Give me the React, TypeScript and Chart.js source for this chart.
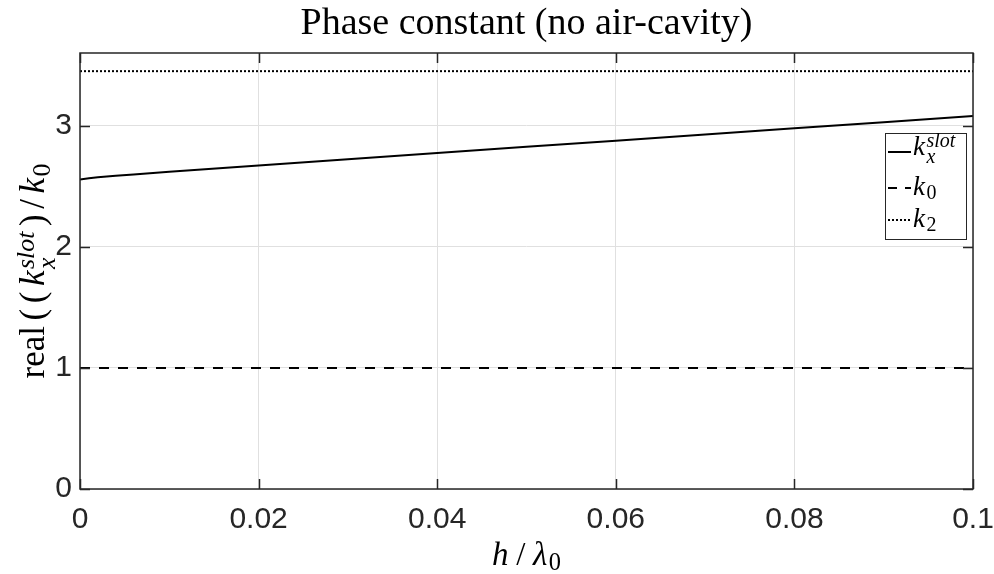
import React, { useEffect, useRef } from 'react';
import { Chart, registerables } from 'chart.js';

Chart.register(...registerables);

// ---- data ----
const hLambda = [0, 0.001, 0.002, 0.004, 0.006, 0.01, 0.02, 0.03, 0.04, 0.05, 0.06, 0.07, 0.08, 0.09, 0.1];
const kSlot = [2.555, 2.566, 2.574, 2.586, 2.597, 2.62, 2.672, 2.723, 2.774, 2.825, 2.876, 2.927, 2.978, 3.029, 3.08];
const k0X = [0, 0.1];
const k0Values = [1, 1];
const k2X = [0, 0.1];
const k2Values = [3.45, 3.45];
const xTicks = [0, 0.02, 0.04, 0.06, 0.08, 0.1];
const xTickLabels = ['0', '0.02', '0.04', '0.06', '0.08', '0.1'];
const yTicks = [0, 1, 2, 3];
const yTickLabels = ['0', '1', '2', '3'];
const xMin = 0;
const xMax = 0.1;
const yMin = 0;
const yMax = 3.6;
const titleText = 'Phase constant (no air-cavity)';

const SERIF = '"Liberation Serif", "Times New Roman", serif';
const SANS = '"Liberation Sans", Arial, sans-serif';
const AXIS = '#262626';
const SCRIPT = 0.74;

type Seg = { t: string; it?: boolean; sup?: string; sub?: string; subIt?: boolean };

function segWidth(ctx: CanvasRenderingContext2D, s: Seg, size: number) {
  ctx.font = `${s.it ? 'italic ' : ''}${size}px ${SERIF}`;
  const w = ctx.measureText(s.t).width;
  let extra = 0;
  const ss = size * SCRIPT;
  if (s.sup) {
    ctx.font = `italic ${ss}px ${SERIF}`;
    extra = Math.max(extra, ctx.measureText(s.sup).width);
  }
  if (s.sub) {
    ctx.font = `${s.subIt ? 'italic ' : ''}${ss}px ${SERIF}`;
    extra = Math.max(extra, ctx.measureText(s.sub).width);
  }
  return w + extra + (extra ? 1.5 : 0);
}

function drawRich(
  ctx: CanvasRenderingContext2D,
  segs: Seg[],
  x: number,
  y: number,
  size: number,
  align: 'left' | 'center',
  target?: number
) {
  const widths = segs.map((s) => segWidth(ctx, s, size));
  const natural = widths.reduce((a, b) => a + b, 0);
  const gap = target && segs.length > 1 && target > natural ? (target - natural) / (segs.length - 1) : 0;
  const total = natural + gap * (segs.length - 1);
  let cx = align === 'center' ? x - total / 2 : x;
  ctx.textAlign = 'left';
  ctx.textBaseline = 'alphabetic';
  ctx.fillStyle = '#000';
  const ss = size * SCRIPT;
  segs.forEach((s, i) => {
    ctx.font = `${s.it ? 'italic ' : ''}${size}px ${SERIF}`;
    ctx.fillText(s.t, cx, y);
    const w = ctx.measureText(s.t).width;
    const both = !!(s.sup && s.sub);
    if (s.sup) {
      ctx.font = `italic ${ss}px ${SERIF}`;
      ctx.fillText(s.sup, cx + w + 1.5, y - size * 0.3);
    }
    if (s.sub) {
      ctx.font = `${s.subIt ? 'italic ' : ''}${ss}px ${SERIF}`;
      ctx.fillText(s.sub, cx + w + 1.5, y + size * (both ? 0.3 : 0.16));
    }
    cx += widths[i] + gap;
  });
}

const decorPlugin = {
  id: 'decor',
  afterDraw(chart: any) {
    const ctx: CanvasRenderingContext2D = chart.ctx;
    const { left, right, top, bottom } = chart.chartArea;
    const xs = chart.scales.x;
    const ys = chart.scales.y;
    ctx.save();
    // box
    ctx.strokeStyle = AXIS;
    ctx.lineWidth = 1.5;
    ctx.setLineDash([]);
    ctx.strokeRect(left, top, right - left, bottom - top);
    // inward ticks
    const tl = 10;
    ctx.beginPath();
    for (const v of xTicks) {
      const px = Math.round(xs.getPixelForValue(v)) + 0.5;
      ctx.moveTo(px, bottom);
      ctx.lineTo(px, bottom - tl);
      ctx.moveTo(px, top);
      ctx.lineTo(px, top + tl);
    }
    for (const v of yTicks) {
      const py = Math.round(ys.getPixelForValue(v)) + 0.5;
      ctx.moveTo(left, py);
      ctx.lineTo(left + tl, py);
      ctx.moveTo(right, py);
      ctx.lineTo(right - tl, py);
    }
    ctx.stroke();

    // title
    ctx.fillStyle = '#000';
    ctx.font = `38px ${SERIF}`;
    ctx.textAlign = 'center';
    ctx.textBaseline = 'alphabetic';
    ctx.fillText(titleText, (left + right) / 2, 34);

    // x label
    drawRich(ctx, [{ t: 'h', it: true }, { t: '/' }, { t: 'λ', it: true, sub: '0' }], (left + right) / 2, 565, 33, 'center', 69);

    // y label
    ctx.save();
    ctx.translate(44, (top + bottom) / 2);
    ctx.rotate(-Math.PI / 2);
    drawRich(
      ctx,
      [
        { t: 'real' },
        { t: '(' },
        { t: '(' },
        { t: 'k', it: true, sup: 'slot', sub: 'x', subIt: true },
        { t: ')' },
        { t: '/' },
        { t: 'k', it: true, sub: '0' },
      ],
      0,
      0,
      35,
      'center',
      215
    );
    ctx.restore();

    // legend
    const lx = 885, ly = 133, lw = 81, lh = 106;
    ctx.fillStyle = '#fff';
    ctx.fillRect(lx, ly, lw, lh);
    ctx.strokeStyle = AXIS;
    ctx.lineWidth = 1;
    ctx.strokeRect(lx + 0.5, ly + 0.5, lw, lh);
    const rows = [
      { y: 152, base: 155, dash: [] as number[], segs: [{ t: 'k', it: true, sup: 'slot', sub: 'x', subIt: true }] as Seg[] },
      { y: 188, base: 195, dash: [9, 8], segs: [{ t: 'k', it: true, sub: '0' }] as Seg[] },
      { y: 220, base: 227, dash: [2, 2], segs: [{ t: 'k', it: true, sub: '2' }] as Seg[] },
    ];
    for (const r of rows) {
      ctx.strokeStyle = '#000';
      ctx.lineWidth = 2;
      ctx.setLineDash(r.dash);
      ctx.beginPath();
      ctx.moveTo(888, r.y);
      ctx.lineTo(911, r.y);
      ctx.stroke();
      ctx.setLineDash([]);
      drawRich(ctx, r.segs, 913, r.base, 27, 'left');
    }
    ctx.restore();
  },
};

export default function App() {
  const ref = useRef<HTMLCanvasElement>(null);
  useEffect(() => {
    document.body.style.margin = '0';
    const chart = new Chart(ref.current as HTMLCanvasElement, {
      type: 'scatter',
      data: {
        datasets: [
          {
            label: 'kslot',
            data: hLambda.map((x, i) => ({ x, y: kSlot[i] })),
            showLine: true,
            borderColor: '#000',
            borderWidth: 2,
            pointRadius: 0,
            tension: 0,
          },
          {
            label: 'k0',
            data: k0X.map((x, i) => ({ x, y: k0Values[i] })),
            showLine: true,
            borderColor: '#000',
            borderWidth: 2,
            borderDash: [10, 9],
            pointRadius: 0,
          },
          {
            label: 'k2',
            data: k2X.map((x, i) => ({ x, y: k2Values[i] })),
            showLine: true,
            borderColor: '#000',
            borderWidth: 2,
            borderDash: [2, 2],
            pointRadius: 0,
          },
        ],
      },
      options: {
        animation: false,
        responsive: false,
        devicePixelRatio: 1,
        layout: { padding: { top: 53, right: 21, left: 0, bottom: 0 } },
        plugins: { legend: { display: false }, tooltip: { enabled: false }, title: { display: false } },
        scales: {
          x: {
            type: 'linear',
            min: xMin,
            max: xMax,
            afterBuildTicks: (s: any) => {
              s.ticks = xTicks.map((v) => ({ value: v }));
            },
            afterFit: (s: any) => {
              s.height = 85;
              s.paddingLeft = 0;
              s.paddingRight = 0;
            },
            ticks: {
              callback: (_v: any, i: number) => xTickLabels[i],
              font: { family: SANS, size: 30 },
              color: AXIS,
              padding: 13,
              maxRotation: 0,
              autoSkip: false,
            },
            grid: { color: '#e0e0e0', lineWidth: 1, drawTicks: false },
            border: { display: false },
          },
          y: {
            type: 'linear',
            min: yMin,
            max: yMax,
            afterBuildTicks: (s: any) => {
              s.ticks = yTicks.map((v) => ({ value: v }));
            },
            afterFit: (s: any) => {
              s.width = 80;
              s.paddingTop = 0;
              s.paddingBottom = 0;
            },
            ticks: {
              callback: (_v: any, i: number) => yTickLabels[i],
              font: { family: SANS, size: 30 },
              color: AXIS,
              padding: 8,
              autoSkip: false,
            },
            grid: { color: '#e0e0e0', lineWidth: 1, drawTicks: false },
            border: { display: false },
          },
        },
      },
      plugins: [decorPlugin],
    } as any);
    return () => chart.destroy();
  }, []);
  return (
    <div style={{ width: 994, height: 574, position: 'relative', background: '#fff' }}>
      <canvas ref={ref} width={994} height={574} style={{ width: 994, height: 574, display: 'block' }} />
    </div>
  );
}
